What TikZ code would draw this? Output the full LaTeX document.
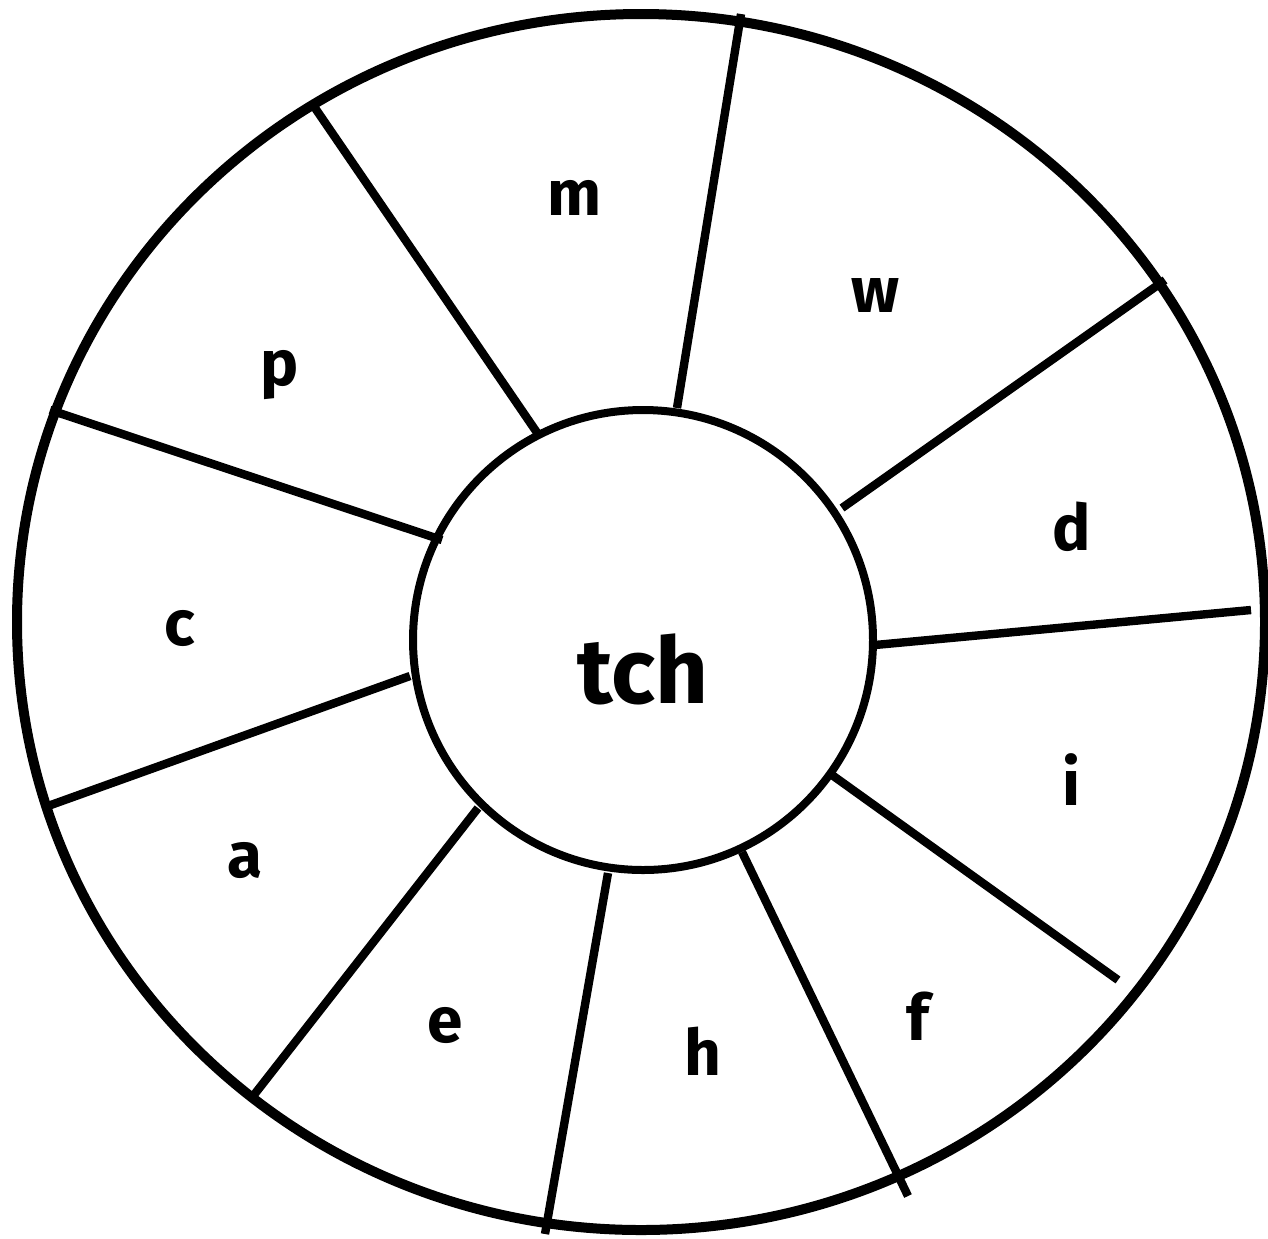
\documentclass[tikz,border=0pt]{standalone}
\usepackage{fontspec}
\setmainfont{Fira Sans}
\tikzset{every picture/.style={line width=0.75pt}}
\tikzset{
letter/.style={anchor=base,inner sep=0pt,font=\fontsize{32}{36}\selectfont\bfseries},
spoke/.style={line width=4.2pt}}

\begin{document}
\begin{tikzpicture}[x=0.5pt,y=0.5pt,yscale=-1,xscale=1]
\useasboundingbox (0,0) rectangle (1268,1238);

%Straight Lines
\draw [spoke] (540,437) -- (313,105) ;
\draw [spoke] (677,408) -- (741,14) ;
\draw [spoke] (842,508) -- (1165,280) ;
\draw [spoke] (875,645) -- (1251,610) ;
\draw [spoke] (832,775) -- (1118,980) ;
\draw [spoke] (742,852) -- (908,1196) ;
\draw [spoke] (608,873) -- (545,1234) ;
\draw [spoke] (478,808) -- (250,1100) ;
\draw [spoke] (410,676) -- (48,806) ;
\draw [spoke] (442,540) -- (50,410) ;
%Shape: Ellipse
\draw [line width=5pt] (641,622) ellipse [x radius=624, y radius=608] ;
%Shape: Circle
\draw [line width=4pt] (643,640) circle [radius=230] ;

% Text Node
\node [letter] (m) at (575,215) {m};
% Text Node
\node [letter] (w) at (875,312) {w};
% Text Node
\node [letter] (d) at (1072,550) {d};
% Text Node
\node [letter] (i) at (1072,805) {i};
% Text Node
\node [letter] (f) at (918,1040) {f};
% Text Node
\node [letter] (h) at (703,1075) {h};
% Text Node
\node [letter] (e) at (445,1042) {e};
% Text Node
\node [letter] (a) at (245,877) {a};
% Text Node
\node [letter] (c) at (180,645) {c};
% Text Node
\node [letter] (p) at (280,385) {p};
% Text Node
\node [letter,font=\fontsize{46}{50}\selectfont\bfseries] (tch) at (643,703) {tch};

\end{tikzpicture}
\end{document}
